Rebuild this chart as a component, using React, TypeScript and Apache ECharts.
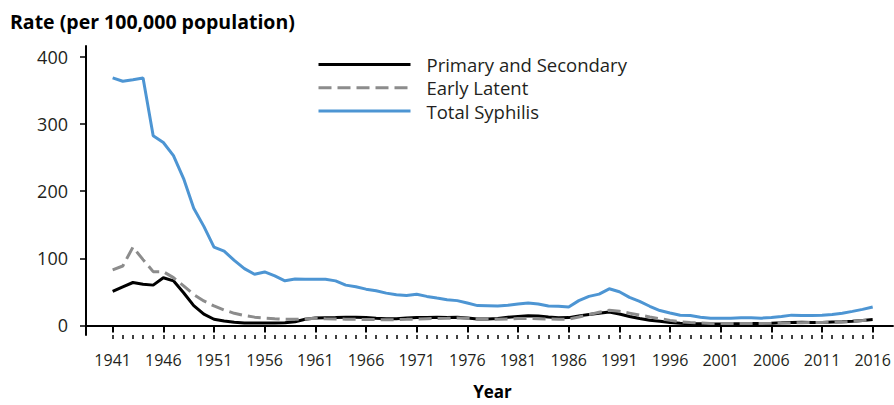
import React, { useEffect, useRef } from "react";
import * as echarts from "echarts";

const years: number[] = [];
for (let y = 1941; y <= 2016; y++) years.push(y);

const majorTickYears = [1941, 1946, 1951, 1956, 1961, 1966, 1971, 1976, 1981, 1986, 1991, 1996, 2001, 2006, 2011, 2016];
const yTickValues = [0, 100, 200, 300, 400];

const primarySecondary = [
  50.6, 57.5, 63.9, 61.4, 60.0, 70.9, 66.4, 48.7, 29.5, 16.7,
  9.2, 6.5, 4.7, 3.6, 3.5, 3.4, 3.4, 3.9, 5.5, 9.1,
  10.9, 11.3, 11.6, 12.1, 12.1, 11.6, 10.7, 10.0, 9.9, 10.9,
  11.7, 11.9, 12.1, 11.9, 12.1, 11.0, 9.4, 9.5, 10.4, 12.1,
  13.3, 14.4, 14.0, 12.5, 11.5, 11.6, 14.2, 16.3, 18.1, 20.1,
  17.0, 13.3, 10.2, 7.8, 6.2, 4.3, 3.1, 2.5, 2.4, 2.1,
  2.1, 2.4, 2.5, 2.7, 2.9, 3.3, 3.8, 4.4, 4.6, 4.5,
  4.5, 5.0, 5.5, 6.3, 7.4, 8.7,
];

const earlyLatent = [
  82.6, 88.5, 116.5, 98.0, 80.1, 80.1, 71.2, 59.0, 46.0, 36.5,
  29.0, 23.0, 18.0, 14.7, 12.3, 11.0, 10.0, 9.2, 9.0, 9.5,
  10.5, 10.0, 9.6, 9.3, 9.0, 8.8, 8.6, 8.4, 8.6, 9.0,
  9.5, 10.0, 10.4, 10.6, 11.0, 10.6, 9.5, 9.2, 9.2, 9.6,
  10.2, 10.3, 10.0, 9.6, 9.2, 9.4, 12.5, 16.0, 19.5, 22.5,
  21.0, 18.3, 15.5, 12.5, 10.0, 7.5, 5.5, 4.2, 3.5, 3.0,
  2.9, 2.8, 2.8, 2.8, 2.9, 3.1, 3.4, 3.8, 4.1, 4.3,
  4.4, 4.6, 5.1, 6.0, 7.2, 8.5,
];

const totalSyphilis = [
  368.7, 363.7, 366.0, 368.5, 282.6, 272.5, 253.0, 218.7, 174.5, 147.5,
  116.5, 110.6, 96.8, 84.5, 76.1, 79.6, 73.7, 66.4, 69.0, 68.7,
  68.7, 68.7, 66.3, 60.0, 57.5, 54.0, 51.6, 48.1, 45.7, 44.7,
  46.3, 43.2, 40.7, 38.3, 36.9, 33.3, 29.5, 29.3, 28.9, 29.9,
  31.9, 33.3, 31.9, 28.9, 28.4, 27.5, 36.9, 43.2, 46.6, 54.5,
  50.1, 41.7, 35.8, 28.5, 22.1, 18.6, 15.2, 14.7, 12.2, 10.8,
  10.8, 10.8, 11.3, 11.3, 10.8, 11.8, 13.3, 15.3, 14.7, 14.7,
  15.2, 16.2, 18.2, 20.9, 23.9, 27.5,
];

const seriesNames = ["Primary and Secondary", "Early Latent", "Total Syphilis"];

const FONT = "Open Sans";
const TEXT = "#231f20";

export default function App() {
  const ref = useRef<HTMLDivElement>(null);
  useEffect(() => {
    if (!ref.current) return;
    const chart = echarts.init(ref.current, undefined, { renderer: "svg" });
    const pair = (arr: number[]) => years.map((y, i) => [y, arr[i]]);
    const xMin = 1938.37;
    const xMax = 2018.0;
    chart.setOption({
      animation: false,
      backgroundColor: "#ffffff",
      title: {
        text: "Rate (per 100,000 population)",
        left: 10,
        top: 11,
        padding: 0,
        textStyle: { fontFamily: FONT, fontWeight: "bold", fontSize: 19.5, color: "#000" },
      },
      legend: {
        orient: "vertical",
        left: 317,
        top: 55,
        padding: 0,
        itemWidth: 92,
        itemHeight: 14,
        itemGap: 4.3,
        data: seriesNames,
        itemStyle: { opacity: 0, borderWidth: 0 },
        lineStyle: { width: 3 },
        textStyle: { fontFamily: FONT, fontSize: 18.5, lineHeight: 19, color: TEXT, padding: [0, 0, 0, 11] },
      },
      grid: { left: 86, right: 0, top: 46, bottom: 67, containLabel: false },
      xAxis: [
        {
          type: "value",
          min: xMin,
          max: xMax,
          position: "bottom",
          name: "Year",
          nameLocation: "middle",
          nameGap: 48,
          nameTextStyle: { fontFamily: FONT, fontWeight: "bold", fontSize: 17, color: "#000", padding: [0, 0, 0, 6] },
          axisLine: { show: true, lineStyle: { color: "#000", width: 2 } },
          axisTick: { show: true, customValues: majorTickYears, length: 7, lineStyle: { color: "#000", width: 2 } },
          axisLabel: {
            show: true,
            customValues: majorTickYears,
            margin: 17,
            fontFamily: FONT,
            fontSize: 16,
            color: TEXT,
            formatter: (v: number) => String(Math.round(v)),
          },
          splitLine: { show: false },
        },
        {
          type: "value",
          min: xMin,
          max: xMax,
          position: "bottom",
          offset: 0,
          axisLine: { show: false },
          axisTick: { show: true, customValues: years, length: 4, lineStyle: { color: "#000", width: 1.5 } },
          axisLabel: { show: false },
          splitLine: { show: false },
        },
      ],
      yAxis: {
        type: "value",
        min: -14.3,
        max: 416.2,
        axisLine: { show: true, lineStyle: { color: "#000", width: 2 } },
        axisTick: { show: true, customValues: yTickValues, length: 6, lineStyle: { color: "#000", width: 1.5 } },
        axisLabel: {
          show: true,
          customValues: yTickValues,
          margin: 18,
          fontFamily: FONT,
          fontSize: 18,
          color: TEXT,
        },
        splitLine: { show: false },
      },
      series: [
        {
          name: seriesNames[0],
          type: "line",
          data: pair(primarySecondary),
          symbol: "none",
          lineStyle: { color: "#000000", width: 3 },
          itemStyle: { color: "#000000" },
        },
        {
          name: seriesNames[1],
          type: "line",
          data: pair(earlyLatent),
          symbol: "none",
          lineStyle: { color: "#8c8c8c", width: 3, type: [13, 6] },
          itemStyle: { color: "#8c8c8c" },
        },
        {
          name: seriesNames[2],
          type: "line",
          data: pair(totalSyphilis),
          symbol: "none",
          lineStyle: { color: "#4d95d3", width: 3 },
          itemStyle: { color: "#4d95d3" },
        },
      ],
    });
    return () => chart.dispose();
  }, []);
  return <div ref={ref} style={{ width: 894, height: 405, position: "absolute", left: 0, top: 0 }} />;
}
